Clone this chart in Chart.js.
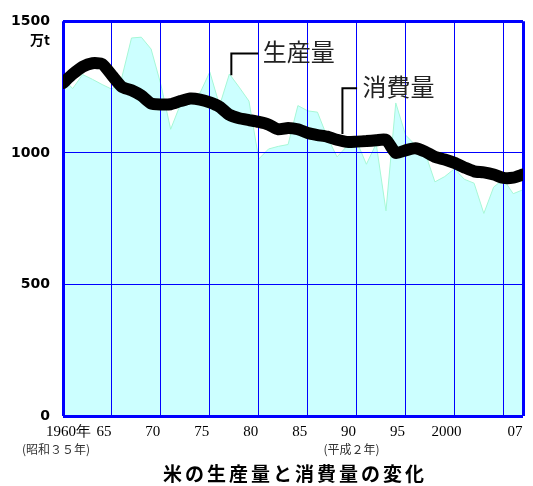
<!DOCTYPE html>
<html>
<head>
<meta charset="utf-8">
<script src="https://cdn.jsdelivr.net/npm/chart.js@4.4.1/dist/chart.umd.min.js"></script>
<style>
  html, body { margin: 0; padding: 0; background: #fff; }
  #wrap { width: 533px; height: 486px; position: relative; }
</style>
</head>
<body>
<div id="wrap"><canvas id="c" width="533" height="486"></canvas></div>
<script>
// 年次（1960〜2007年）
const years = [
  1960, 1961, 1962, 1963, 1964, 1965, 1966, 1967, 1968, 1969,
  1970, 1971, 1972, 1973, 1974, 1975, 1976, 1977, 1978, 1979,
  1980, 1981, 1982, 1983, 1984, 1985, 1986, 1987, 1988, 1989,
  1990, 1991, 1992, 1993, 1994, 1995, 1996, 1997, 1998, 1999,
  2000, 2001, 2002, 2003, 2004, 2005, 2006, 2007
];

// 米の生産量（万t）
const production = [
  1280, 1245, 1298, 1280, 1260, 1242, 1285, 1437, 1440, 1395,
  1260, 1090, 1185, 1215, 1228, 1308, 1180, 1300, 1250, 1197,
   977, 1015, 1025, 1032, 1180, 1160, 1155, 1060,  985, 1025,
  1045,  957, 1035,  780, 1190, 1068, 1030, 1000,  890,  910,
   940,  900,  885,  770,  870,  900,  845,  860
];

// 米の消費量（万t）
const consumption = [
  1266, 1300, 1328, 1341, 1338, 1295, 1252, 1238, 1218, 1188,
  1184, 1185, 1197, 1207, 1203, 1192, 1175, 1145, 1132, 1125,
  1118, 1108, 1090, 1095, 1090, 1076, 1068, 1062, 1050, 1042,
  1043, 1045, 1048, 1050, 1000, 1010, 1018, 1005,  985,  975,
   962,  945,  930,  926,  918,  905,  906,  918
];

// 目盛り
const gridYears = [1960, 1965, 1970, 1975, 1980, 1985, 1990, 1995, 2000, 2005, 2007];
const xTickLabels = ['1960年', '65', '70', '75', '80', '85', '90', '95', '2000', '', '07'];
const eraNotes = [
  { year: 1960, text: '(昭和３５年)' },
  { year: 1990, text: '(平成２年)' }
];
const yTicks = [0, 500, 1000, 1500];
const unitLabel = '万t';
const seriesNames = ['生産量', '消費量'];
const titleText = '米の生産量と消費量の変化';

// 系列名の引き出し線（年・値で指定）
const callouts = [
  { name: seriesNames[0], anchor: [1977.2, 1295], elbowValue: 1378, endYear: 1979.95, textYear: 1980.4, textValue: 1383 },
  { name: seriesNames[1], anchor: [1988.55, 1072], elbowValue: 1246, endYear: 1990.05, textYear: 1990.6, textValue: 1250 }
];

const BLUE = '#0000ff';
const edgeWidth = (edges) => (ctx) => (ctx.tick && edges.includes(ctx.tick.value)) ? 3 : 1;

// 生産量の塗りの上に目盛り線を描き直し、その上に消費量の線を重ねる
const gridOverFill = {
  id: 'gridOverFill',
  afterDatasetDraw(chart, args) {
    if (chart.data.datasets[args.index].label !== seriesNames[0]) return;
    chart.scales.x.drawGrid(chart.chartArea);
    chart.scales.y.drawGrid(chart.chartArea);
  }
};

const labelsPlugin = {
  id: 'labelsPlugin',
  afterDraw(chart) {
    const { ctx, chartArea } = chart;
    const xs = chart.scales.x, ys = chart.scales.y;
    ctx.save();

    // 単位
    ctx.fillStyle = '#000';
    ctx.font = 'bold 14px "Noto Sans CJK JP", "DejaVu Sans", sans-serif';
    ctx.textAlign = 'right';
    ctx.textBaseline = 'middle';
    ctx.fillText(unitLabel, chartArea.left - 13, ys.getPixelForValue(1500) + 18);

    // 年の目盛りラベル
    ctx.font = '15px "Liberation Serif", serif';
    ctx.textBaseline = 'middle';
    const labelY = chartArea.bottom + 16;
    gridYears.forEach((yr, i) => {
      const t = xTickLabels[i];
      if (!t) return;
      const px = xs.getPixelForValue(yr);
      if (i === 0) {
        ctx.textAlign = 'left';
        ctx.fillText(t, px - 17, labelY);
      } else {
        ctx.textAlign = 'center';
        ctx.fillText(t, px - 8, labelY);
      }
    });

    // 元号
    ctx.font = '12px "Noto Sans CJK JP", sans-serif';
    ctx.fillStyle = '#333';
    ctx.textAlign = 'center';
    eraNotes.forEach((n) => {
      const px = xs.getPixelForValue(n.year);
      const off = n.year === 1960 ? -7 : -5;
      ctx.fillText(n.text, px + off, chartArea.bottom + 33);
    });

    // 系列名と引き出し線
    callouts.forEach((c) => {
      const ax = xs.getPixelForValue(c.anchor[0]);
      const ay = ys.getPixelForValue(c.anchor[1]);
      const ey = ys.getPixelForValue(c.elbowValue);
      const ex = xs.getPixelForValue(c.endYear);
      ctx.strokeStyle = '#000';
      ctx.lineWidth = 2;
      ctx.beginPath();
      ctx.moveTo(ax, ay);
      ctx.lineTo(ax, ey);
      ctx.lineTo(ex, ey);
      ctx.stroke();
      ctx.fillStyle = '#222';
      ctx.font = '24px "Noto Sans CJK JP", sans-serif';
      ctx.textAlign = 'left';
      ctx.textBaseline = 'middle';
      ctx.fillText(c.name, xs.getPixelForValue(c.textYear), ys.getPixelForValue(c.textValue));
    });

    // タイトル
    ctx.fillStyle = '#000';
    ctx.font = 'bold 19px "Noto Sans CJK JP", sans-serif';
    ctx.textAlign = 'center';
    ctx.textBaseline = 'middle';
    ctx.letterSpacing = '3px';
    ctx.fillText(titleText, (chartArea.left + chartArea.right) / 2 + 2, chartArea.bottom + 58);
    ctx.restore();
  }
};

new Chart(document.getElementById('c'), {
  type: 'line',
  data: {
    datasets: [
      {
        label: seriesNames[1],
        data: years.map((y, i) => ({ x: y, y: consumption[i] })),
        borderColor: '#000',
        borderWidth: 12,
        borderCapStyle: 'round',
        borderJoinStyle: 'round',
        pointRadius: 0,
        tension: 0.2,
        fill: false,
        order: 0
      },
      {
        label: seriesNames[0],
        data: years.map((y, i) => ({ x: y, y: production[i] })),
        borderColor: '#a6f7d6',
        borderWidth: 1,
        backgroundColor: '#ccffff',
        pointRadius: 0,
        tension: 0,
        fill: 'origin',
        order: 1
      }
    ]
  },
  options: {
    responsive: false,
    animation: false,
    events: [],
    layout: { padding: { top: 20, right: 10, left: 0, bottom: 0 } },
    plugins: { legend: { display: false }, tooltip: { enabled: false } },
    scales: {
      x: {
        type: 'linear',
        min: 1960,
        max: 2007,
        afterBuildTicks: (s) => { s.ticks = gridYears.map((v) => ({ value: v })); },
        afterFit: (s) => { s.height = 70; },
        ticks: { display: false },
        grid: { color: BLUE, lineWidth: edgeWidth([1960, 2007]), drawTicks: false },
        border: { display: false }
      },
      y: {
        min: 0,
        max: 1500,
        afterBuildTicks: (s) => { s.ticks = yTicks.map((v) => ({ value: v })); },
        afterFit: (s) => { s.width = 63; },
        ticks: {
          color: '#000',
          padding: 13,
          callback: (v) => String(v),
          font: { family: '"DejaVu Sans", sans-serif', weight: 'bold', size: 14 }
        },
        grid: { color: BLUE, lineWidth: edgeWidth([0, 1500]), drawTicks: false },
        border: { display: false }
      }
    }
  },
  plugins: [gridOverFill, labelsPlugin]
});
</script>
</body>
</html>
